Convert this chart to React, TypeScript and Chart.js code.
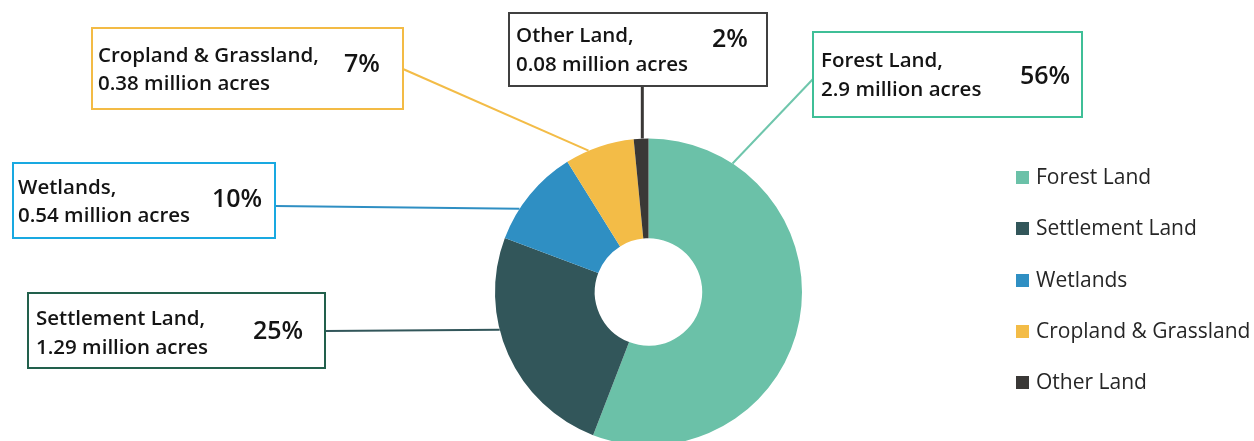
import React, { useEffect, useRef } from "react";
import { Chart, registerables } from "chart.js";

Chart.register(...registerables);

// ---------- data ----------
const categories = ["Forest Land", "Settlement Land", "Wetlands", "Cropland & Grassland", "Other Land"];
const acresMillions = [2.9, 1.29, 0.54, 0.38, 0.08];
const percentLabels = ["56%", "25%", "10%", "7%", "2%"];
const sliceColors = ["#6BC1A8", "#32565A", "#2F8FC3", "#F3BC47", "#3A3836"];

// ---------- callout styling / placement ----------
type Callout = {
  box: [number, number, number, number];
  border: string;
  lineColor: string;
  lineWidth: number;
  from: [number, number];
  angle: number; // degrees, where the leader meets the ring
  textX: number;
  line1Y: number;
  line2Y: number;
  pctX: number;
  pctY: number;
};

const callouts: Callout[] = [
  { box: [813, 32, 269, 85], border: "#3FBF97", lineColor: "#6FC6AC", lineWidth: 2, from: [813, 79], angle: -56.8, textX: 821, line1Y: 61, line2Y: 90, pctX: 1045, pctY: 77 },
  { box: [28, 293, 297, 75], border: "#22604C", lineColor: "#32565A", lineWidth: 2, from: [325, 331], angle: 165.8, textX: 36, line1Y: 319, line2Y: 348, pctX: 278, pctY: 332 },
  { box: [13, 163, 262, 75], border: "#19A9E1", lineColor: "#2F8FC3", lineWidth: 2, from: [275, 206], angle: -147.2, textX: 18, line1Y: 188, line2Y: 216, pctX: 237, pctY: 200 },
  { box: [92, 28, 311, 81], border: "#F3BB45", lineColor: "#F3BC47", lineWidth: 2, from: [403, 69], angle: -113, textX: 98, line1Y: 56, line2Y: 84, pctX: 362, pctY: 65 },
  { box: [509, 13, 258, 73], border: "#404040", lineColor: "#3A3836", lineWidth: 3, from: [642.3, 86], angle: -92.3, textX: 516, line1Y: 36, line2Y: 65, pctX: 730, pctY: 40 },
];

const FONT = "'Open Sans', 'Noto Sans', sans-serif";

const calloutPlugin = {
  id: "callouts",
  afterDraw(chart: any) {
    const ctx: CanvasRenderingContext2D = chart.ctx;
    const meta = chart.getDatasetMeta(0);
    const arc = meta.data[0] as any;
    const { x: cx, y: cy, outerRadius } = arc.getProps(["x", "y", "outerRadius"], true);

    ctx.save();
    categories.forEach((name, i) => {
      const c = callouts[i];
      // leader line
      const a = (c.angle * Math.PI) / 180;
      const ex = cx + outerRadius * Math.cos(a);
      const ey = cy + outerRadius * Math.sin(a);
      ctx.strokeStyle = c.lineColor;
      ctx.lineWidth = c.lineWidth;
      ctx.beginPath();
      ctx.moveTo(c.from[0], c.from[1]);
      ctx.lineTo(ex, ey);
      ctx.stroke();

      // box
      const [bx, by, bw, bh] = c.box;
      ctx.fillStyle = "#ffffff";
      ctx.fillRect(bx, by, bw, bh);
      ctx.strokeStyle = c.border;
      ctx.lineWidth = 2;
      ctx.strokeRect(bx, by, bw, bh);

      // text
      ctx.fillStyle = "#141414";
      ctx.textBaseline = "middle";
      ctx.textAlign = "left";
      ctx.font = `600 20.5px ${FONT}`;
      ctx.fillText(`${name},`, c.textX, c.line1Y);
      ctx.fillText(`${acresMillions[i]} million acres`, c.textX, c.line2Y);
      ctx.textAlign = "center";
      ctx.font = `600 25px ${FONT}`;
      ctx.fillText(percentLabels[i], c.pctX, c.pctY);
    });

    // legend
    const colors = chart.data.datasets[0].backgroundColor as string[];
    const legendY = [178, 229, 281, 332, 383];
    ctx.textAlign = "left";
    ctx.textBaseline = "middle";
    ctx.font = `21px ${FONT}`;
    chart.data.labels.forEach((label: string, i: number) => {
      ctx.fillStyle = colors[i];
      ctx.fillRect(1016, legendY[i] - 7, 13, 13);
      ctx.fillStyle = "#262626";
      ctx.fillText(label, 1036, legendY[i]);
    });
    ctx.restore();
  },
};

export default function App() {
  const canvasRef = useRef<HTMLCanvasElement | null>(null);

  useEffect(() => {
    if (!canvasRef.current) return;
    const chart = new Chart(canvasRef.current, {
      type: "doughnut",
      data: {
        labels: categories,
        datasets: [
          {
            data: acresMillions,
            backgroundColor: sliceColors,
            borderWidth: 0,
            radius: 153.5,
            cutout: "35%",
          } as any,
        ],
      },
      options: {
        responsive: false,
        animation: false,
        layout: { padding: { left: 495, right: 452, top: 143, bottom: 0 } },
        plugins: {
          legend: { display: false },
          tooltip: { enabled: false },
        },
      },
      plugins: [calloutPlugin],
    });
    return () => chart.destroy();
  }, []);

  return (
    <div style={{ position: "fixed", left: 0, top: 0, width: 1254, height: 441, background: "#fff", overflow: "hidden" }}>
      <canvas ref={canvasRef} width={1254} height={441} style={{ width: 1254, height: 441 }} />
    </div>
  );
}
